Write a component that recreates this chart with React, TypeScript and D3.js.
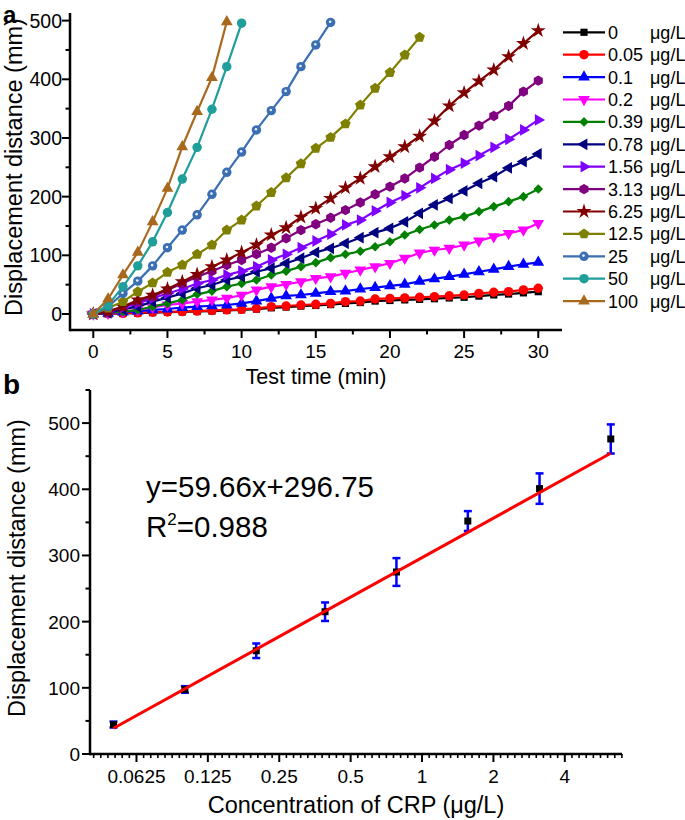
import React from 'react';
import * as d3 from 'd3';

// ---- panel a: displacement vs time for each CRP concentration ----
const minutes = [0, 1, 2, 3, 4, 5, 6, 7, 8, 9, 10, 11, 12, 13, 14, 15, 16, 17, 18, 19, 20, 21, 22, 23, 24, 25, 26, 27, 28, 29, 30];

const conc0 = [0, 0.3, 0.8, 1.5, 2.3, 3, 3.6, 4.3, 5, 6, 7, 8.3, 10.5, 11.8, 13.4, 14.5, 16, 18, 19.5, 22, 23, 24, 25, 26, 27.3, 28.5, 30.5, 32.5, 34, 36, 38];
const conc005 = [0, 0.5, 1, 2, 3, 3.5, 4, 5, 6, 7, 8, 9.6, 12.5, 13.6, 15.3, 16.5, 18, 21, 22, 25.6, 26.5, 27.5, 28.5, 29.5, 31, 32.4, 35, 37, 38, 41, 43.8];
const conc01 = [0, 1, 3, 5, 7, 8.5, 11, 12.5, 14, 15.3, 18, 22, 26.7, 30.7, 32.4, 35, 38, 39, 42.6, 45, 48, 50.6, 55.5, 59.7, 63.6, 67.6, 72, 76, 80.7, 84.7, 88];
const conc02 = [0, 1.5, 4, 7, 11, 15.3, 18, 21, 24, 27, 32, 41, 46.6, 50.6, 55, 60.8, 63.6, 69.4, 75, 80.7, 86.4, 95, 104, 109, 112, 117.6, 124.4, 131.8, 137.5, 143.2, 154.6];
const conc039 = [0, 2, 4, 6.8, 12.5, 18, 24, 33.5, 39, 46.6, 52, 58, 66.5, 73, 80.7, 87.5, 96, 101.7, 107, 114.7, 123, 134.7, 144, 151.7, 160, 165.9, 174.4, 183, 191.5, 200, 213];
const conc078 = [0, 2, 8, 12.5, 21, 27.8, 35, 43.8, 49.4, 58, 63.6, 72, 78, 86.4, 95, 105, 112, 120.5, 130, 138.6, 146, 157, 171.6, 185.8, 197, 209.7, 222.8, 234, 249, 259.7, 272.8];
const conc156 = [0, 4, 11, 18, 26.7, 35, 42.6, 52, 58, 66.5, 73, 80.7, 92, 101.7, 113, 124.4, 136, 151.7, 160, 175.6, 190, 201.7, 215, 231, 246, 257, 270, 284, 297.8, 313.7, 330.7];
const conc313 = [0, 4, 12.5, 21, 29.5, 41, 52, 63.6, 73, 83.5, 92, 102, 113, 129, 143, 153, 164, 177, 190, 204, 217, 231, 249.5, 268, 288, 305, 321, 337.5, 354.6, 379, 397.8];
const conc625 = [0, 4, 12.5, 24, 32, 42.6, 55, 67.6, 80.7, 92, 105, 117.6, 134.7, 147, 165, 180, 197, 215, 231, 251, 268, 285, 303, 329, 354.6, 377, 397, 416, 438.7, 461, 483];
const conc125 = [0, 10, 21, 38, 53, 71, 83.5, 101.7, 117.6, 143, 160, 184, 207, 232, 256, 282.4, 301, 324, 356, 384.7, 411.4, 441.5, 471.6];
const conc25 = [0, 12.5, 35, 56, 82, 113, 143, 169, 204, 241.5, 276, 313.7, 346.6, 379, 421.6, 458.6, 497];
const conc50 = [0, 15, 46.6, 82, 123, 173, 230, 284, 349, 421.6, 495.6];
const conc100 = [0, 25.6, 66.5, 105, 157, 214, 285, 345, 403, 498];

const seriesLabels = ['0', '0.05', '0.1', '0.2', '0.39', '0.78', '1.56', '3.13', '6.25', '12.5', '25', '50', '100'];
const seriesValues = [conc0, conc005, conc01, conc02, conc039, conc078, conc156, conc313, conc625, conc125, conc25, conc50, conc100];
const seriesColors = ['#000000', '#ff0000', '#0000ff', '#ff00ff', '#008000', '#000080', '#8000ff', '#800080', '#800000', '#808000', '#3a6fb2', '#1f9e9a', '#a8681e'];
const seriesMarkers = ['square', 'circle', 'up', 'down', 'diamond', 'left', 'right', 'hexagon', 'star', 'pentagon', 'sphere', 'circle', 'up'];

const timeTicks = [0, 5, 10, 15, 20, 25, 30];
const timeMinor = [2.5, 7.5, 12.5, 17.5, 22.5, 27.5];
const distTicks = [0, 100, 200, 300, 400, 500];
const distMinorA = [50, 150, 250, 350, 450];
const distMinorB = [50, 150, 250, 350, 450, 550];

// ---- panel b: calibration ----
const crpConc = [0.05, 0.1, 0.2, 0.39, 0.78, 1.56, 3.13, 6.25];
const crpMean = [44.5, 97.5, 156, 215, 275, 352, 401, 476];
const crpErr = [4.5, 5, 11, 14, 21, 15, 23, 22];
const fitSlope = 59.66;
const fitIntercept = 296.75;
const concTicks = [0.0625, 0.125, 0.25, 0.5, 1, 2, 4];
const concTickLabels = ['0.0625', '0.125', '0.25', '0.5', '1', '2', '4'];

const FONT = '"Liberation Sans", Arial, sans-serif';

const polygon = (n: number, r: number, rot: number) => {
  const pts = d3.range(n).map(i => {
    const a = rot + (i * 2 * Math.PI) / n;
    return [r * Math.cos(a), r * Math.sin(a)];
  });
  return 'M' + pts.map(p => p.join(',')).join('L') + 'Z';
};

const Marker: React.FC<{ kind: string; color: string; x: number; y: number }> = ({ kind, color, x, y }) => {
  let d = '';
  let rot = 0;
  switch (kind) {
    case 'square': d = d3.symbol(d3.symbolSquare, 52)() as string; break;
    case 'circle': d = d3.symbol(d3.symbolCircle, 70)() as string; break;
    case 'up': d = d3.symbol(d3.symbolTriangle, 60)() as string; break;
    case 'down': d = d3.symbol(d3.symbolTriangle, 60)() as string; rot = 180; break;
    case 'left': d = d3.symbol(d3.symbolTriangle, 60)() as string; rot = -90; break;
    case 'right': d = d3.symbol(d3.symbolTriangle, 60)() as string; rot = 90; break;
    case 'diamond': d = d3.symbol(d3.symbolSquare, 46)() as string; rot = 45; break;
    case 'star': d = d3.symbol(d3.symbolStar, 70)() as string; break;
    case 'hexagon': d = polygon(6, 5.2, Math.PI / 6); break;
    case 'pentagon': d = polygon(5, 5.5, -Math.PI / 2); break;
    case 'sphere': d = d3.symbol(d3.symbolCircle, 70)() as string; break;
  }
  return (
    <g transform={`translate(${x},${y}) rotate(${rot})`}>
      <path d={d} fill={color} />
      {kind === 'sphere' && <circle cx={-0.5} cy={-0.7} r={1.3} fill="#e8f0ff" />}
    </g>
  );
};

const ChartA: React.FC = () => {
  const x = d3.scaleLinear().domain([-1.57, 31.6]).range([70, 562]);
  const y = d3.scaleLinear().domain([-27.3, 513]).range([330, 13]);
  const line = d3.line<number>().x((_, i) => x(minutes[i])).y(v => y(v));
  const axisY = 330;
  const axisX = 70;

  return (
    <g>
      {seriesValues.map((vals, s) => (
        <g key={s}>
          <path d={line(vals) as string} fill="none" stroke={seriesColors[s]} strokeWidth={2.2} strokeLinejoin="round" />
          {vals.map((v, i) => (
            <Marker key={i} kind={seriesMarkers[s]} color={seriesColors[s]} x={x(minutes[i])} y={y(v)} />
          ))}
        </g>
      ))}

      {/* axes */}
      <line x1={axisX} x2={562} y1={axisY} y2={axisY} stroke="#000" strokeWidth={2.5} />
      <line x1={axisX} x2={axisX} y1={13} y2={axisY + 1.2} stroke="#000" strokeWidth={2.5} />
      {timeTicks.map(t => (
        <g key={t}>
          <line x1={x(t)} x2={x(t)} y1={axisY} y2={axisY + 8} stroke="#000" strokeWidth={2} />
          <text x={x(t)} y={358} textAnchor="middle" fontSize={19} fontFamily={FONT}>{t}</text>
        </g>
      ))}
      {timeMinor.map(t => (
        <line key={t} x1={x(t)} x2={x(t)} y1={axisY} y2={axisY + 4.5} stroke="#000" strokeWidth={2} />
      ))}
      {distTicks.map(v => (
        <g key={v}>
          <line x1={axisX - 8} x2={axisX} y1={y(v)} y2={y(v)} stroke="#000" strokeWidth={2} />
          <text x={62} y={y(v) + 7} textAnchor="end" fontSize={19.5} fontFamily={FONT}>{v}</text>
        </g>
      ))}
      {distMinorA.map(v => (
        <line key={v} x1={axisX - 4.5} x2={axisX} y1={y(v)} y2={y(v)} stroke="#000" strokeWidth={2} />
      ))}
      <text x={316} y={384} textAnchor="middle" fontSize={21.5} fontFamily={FONT}>Test time (min)</text>
      <text transform="rotate(-90)" x={-167} y={22} textAnchor="middle" fontSize={23.5} fontFamily={FONT}>Displacement distance (mm)</text>

      {/* legend */}
      {seriesLabels.map((lab, s) => {
        const ly = 32.3 + s * 22.4;
        return (
          <g key={lab}>
            <line x1={563} x2={605} y1={ly} y2={ly} stroke={seriesColors[s]} strokeWidth={2.2} />
            <Marker kind={seriesMarkers[s]} color={seriesColors[s]} x={584} y={ly} />
            <text x={608} y={ly + 6.5} fontSize={18} fontFamily={FONT}>{lab}</text>
            <text x={650} y={ly + 6.5} fontSize={18} fontFamily={FONT}>μg/L</text>
          </g>
        );
      })}
      <text x={3} y={23} fontSize={24} fontWeight="bold" fontFamily={FONT}>a</text>
    </g>
  );
};

const ChartB: React.FC = () => {
  const x = d3.scaleLog().base(2).domain([0.0398, 6.97]).range([90, 622]);
  const y = d3.scaleLinear().domain([0, 550]).range([754, 390]);
  const axisY = 754;
  const axisX = 90;
  const [lo, hi] = x.domain();
  const minor: number[] = [];
  for (let k = -6; k <= 3; k++) {
    for (let j = 1; j < 10; j++) {
      const v = Math.pow(2, k + j / 10);
      if (v >= lo && v <= hi) minor.push(v);
    }
  }
  const fitX = [crpConc[0], crpConc[crpConc.length - 1]];
  const fitLine = d3.line<number>().x(c => x(c)).y(c => y(fitSlope * Math.log2(c) + fitIntercept));

  return (
    <g>
      {crpConc.map((c, i) => (
        <g key={c} stroke="#0000ff" strokeWidth={2.5}>
          <line x1={x(c)} x2={x(c)} y1={y(crpMean[i] - crpErr[i])} y2={y(crpMean[i] + crpErr[i])} />
          <line x1={x(c) - 4} x2={x(c) + 4} y1={y(crpMean[i] - crpErr[i])} y2={y(crpMean[i] - crpErr[i])} />
          <line x1={x(c) - 4} x2={x(c) + 4} y1={y(crpMean[i] + crpErr[i])} y2={y(crpMean[i] + crpErr[i])} />
        </g>
      ))}
      {crpConc.map((c, i) => (
        <rect key={c} x={x(c) - 3.5} y={y(crpMean[i]) - 3.5} width={7} height={7} fill="#000" />
      ))}
      <path d={fitLine(fitX) as string} stroke="#ff0000" strokeWidth={3} fill="none" />

      <line x1={axisX} x2={622} y1={axisY} y2={axisY} stroke="#000" strokeWidth={2.5} />
      <line x1={axisX} x2={axisX} y1={390} y2={axisY + 1.2} stroke="#000" strokeWidth={2.5} />
      {minor.map(v => (
        <line key={v} x1={x(v)} x2={x(v)} y1={axisY} y2={axisY + 4} stroke="#000" strokeWidth={1.6} />
      ))}
      {concTicks.map((c, i) => (
        <g key={c}>
          <line x1={x(c)} x2={x(c)} y1={axisY} y2={axisY + 8} stroke="#000" strokeWidth={2} />
          <text x={x(c)} y={783} textAnchor="middle" fontSize={19} fontFamily={FONT}>{concTickLabels[i]}</text>
        </g>
      ))}
      {distTicks.map(v => (
        <g key={v}>
          <line x1={axisX - 8} x2={axisX} y1={y(v)} y2={y(v)} stroke="#000" strokeWidth={2} />
          <text x={80} y={y(v) + 7} textAnchor="end" fontSize={19} fontFamily={FONT}>{v}</text>
        </g>
      ))}
      {distMinorB.map(v => (
        <line key={v} x1={axisX - 4.5} x2={axisX} y1={y(v)} y2={y(v)} stroke="#000" strokeWidth={2} />
      ))}
      <text x={356} y={813} textAnchor="middle" fontSize={23.5} fontFamily={FONT}>Concentration of CRP (μg/L)</text>
      <text transform="rotate(-90)" x={-568} y={25} textAnchor="middle" fontSize={23.5} fontFamily={FONT}>Displacement distance (mm)</text>

      <text x={146} y={497} fontSize={29.5} fontFamily={FONT}>y=59.66x+296.75</text>
      <text x={146} y={537} fontSize={29.5} fontFamily={FONT}>
        R<tspan dy={-12} fontSize={17}>2</tspan><tspan dy={12}>=0.988</tspan>
      </text>
      <text x={3} y={394} fontSize={28} fontWeight="bold" fontFamily={FONT}>b</text>
    </g>
  );
};

export default function App() {
  return (
    <svg width={685} height={820} style={{ position: 'absolute', left: 0, top: 0, background: '#fff' }} fontFamily={FONT}>
      <rect width={685} height={820} fill="#fff" />
      <ChartA />
      <ChartB />
    </svg>
  );
}
